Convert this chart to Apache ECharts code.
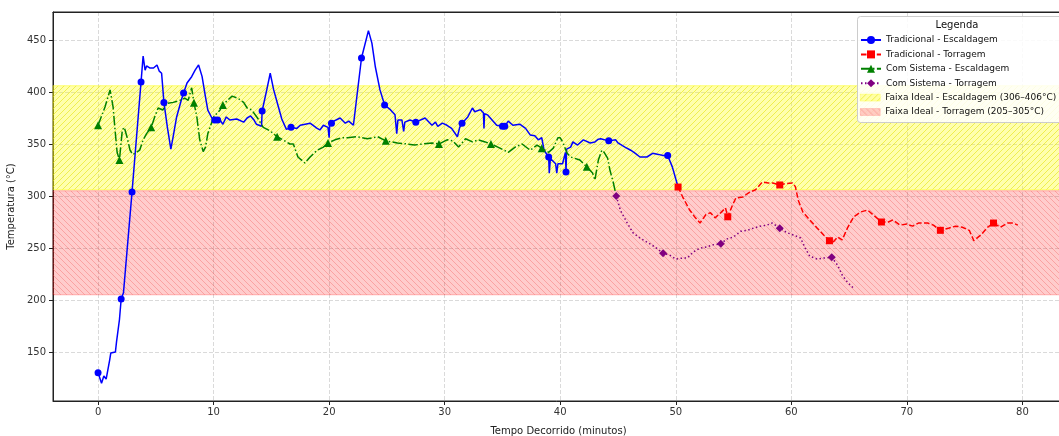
<!DOCTYPE html>
<html>
<head>
<meta charset="utf-8">
<script src="https://cdn.jsdelivr.net/npm/echarts@6/dist/echarts.min.js"></script>
<style>
html,body{margin:0;padding:0;background:#fff;}
#chart{width:1059px;height:436px;}
</style>
</head>
<body>
<div id="chart"></div>
<script>
// ---------- DATA (minutes, °C) ----------
const seriesNames = ['Tradicional - Escaldagem', 'Tradicional - Torragem', 'Com Sistema - Escaldagem', 'Com Sistema - Torragem'];
const bandNames = ['Faixa Ideal - Escaldagem (306–406°C)', 'Faixa Ideal - Torragem (205–305°C)'];
const bandEscaldagem = [306, 406];
const bandTorragem = [205, 305];
const xTicks = [0, 10, 20, 30, 40, 50, 60, 70, 80];
const yTicks = [150, 200, 250, 300, 350, 400, 450];

const tradEscLine = [[0.3,120],[0.5,127],[0.7,124],[1.0,142],[1.1,149],[1.5,150],[1.6,160],[1.85,181],[2.2,207],[3.9,434.6],[4.07,421],[4.2,425],[4.5,423],[4.8,423],[5.1,426],[5.3,420],[5.5,418],[6.0,366],[6.3,345],[6.5,357],[6.8,376],[7.2,392],[7.7,408.6],[8.1,414.7],[8.4,421],[8.7,426],[9.0,415],[9.3,395],[9.5,382.6],[9.85,375],[10.56,373],[10.8,369],[11.1,376],[11.4,373],[12.0,374],[12.6,371],[12.9,375],[13.2,377],[13.5,373],[13.7,369],[14.15,367],[14.6,402],[14.9,418],[15.2,402],[15.6,386],[15.9,374],[16.3,364],[17.2,365],[17.5,368],[18.35,370],[18.96,365],[19.2,363.5],[19.5,368],[19.9,366],[20.0,356],[20.05,370],[20.95,375],[21.4,370],[21.7,372],[22.1,368],[23.4,459],[23.7,447],[24.0,424],[24.4,402],[25.3,383],[25.7,378],[25.85,360],[25.95,373],[26.3,373],[26.45,362],[26.55,371],[27.0,373],[28.3,375],[28.9,368],[29.2,371],[29.4,367],[29.8,370],[30.2,368],[30.6,365],[31.1,357],[31.3,366],[32.0,376],[32.4,384.6],[32.6,381],[33.1,383],[33.35,380],[33.4,365],[33.45,379],[33.7,378],[34.1,373],[34.5,368],[35.5,372],[35.9,368],[36.5,369],[37.0,365],[37.4,358.7],[37.8,358],[38.1,354],[38.4,356],[38.6,344],[39.05,322],[39.15,336],[39.6,331],[39.7,322],[39.8,331],[40.2,331],[40.45,342],[40.55,345],[40.9,347],[41.1,352],[41.5,349],[42.0,354],[42.6,351],[43.0,352],[43.3,354.6],[43.5,355],[44.8,354],[45.0,351],[45.6,347],[46.1,344],[46.5,341],[46.9,337.5],[47.5,337.5],[48.0,341],[48.5,340],[48.9,339],[49.7,328],[50.2,308.6]];
const tradEscMarks = [[0,130],[2.0,201],[2.94,303.8],[3.72,409.6],[5.7,390],[7.4,399],[10.1,373],[10.35,373],[14.2,381.7],[16.7,366],[20.2,370],[22.8,432.7],[24.8,387.5],[27.5,371],[31.5,370],[35.0,367],[35.2,367],[39.0,337.5],[40.5,323],[44.2,353],[49.3,339]];

const tradTorLine = [[50.6,299],[51.2,286.5],[51.7,279],[52.1,274],[52.6,282],[53.0,284],[53.4,279],[53.9,284],[54.3,288.5],[54.9,291],[55.2,298],[55.8,299],[56.3,303],[56.9,306],[57.5,313.5],[58.0,312.5],[58.4,312.5],[59.5,312],[60.1,312.5],[60.35,309],[60.6,296],[61.0,284.6],[61.6,277],[62.25,269],[62.8,262.5],[63.65,256],[64.0,260.6],[64.4,257.7],[64.85,269],[65.4,280],[66.0,284.6],[66.6,286.5],[67.1,281.7],[68.4,275],[68.8,277],[69.4,272],[70.0,273],[70.5,271],[71.0,274],[71.8,274],[72.3,272],[73.6,269],[74.2,271],[74.8,270],[75.4,267],[75.8,257],[76.4,262.5],[77.0,270],[78.1,270],[78.7,274],[79.2,274],[79.6,272]];
const tradTorMarks = [[50.2,308.6],[54.5,280],[59.0,310.6],[63.3,257],[67.8,275],[72.9,267],[77.5,274]];

const sisEscLine = [[0.6,385.6],[1.04,402],[1.3,385.6],[1.47,363.5],[1.65,342],[2.1,363.5],[2.27,366],[2.5,357],[2.77,344],[3.0,340],[3.35,342],[3.6,344],[3.9,354],[4.2,360],[4.9,376],[5.2,384.6],[5.6,382.7],[5.97,389],[6.5,390],[7.1,392],[7.5,394],[7.8,392],[8.1,404],[8.55,376],[8.8,354],[9.1,342.7],[9.3,347],[9.5,360],[10.0,376],[10.56,382.7],[11.2,392],[11.6,396],[12.1,394],[12.6,390],[12.9,384.6],[13.3,382.7],[13.8,375],[14.3,366],[14.9,362.5],[16.0,354],[16.6,350],[16.9,350],[17.3,337.5],[17.9,331.7],[18.35,337.5],[18.96,344],[19.5,347],[20.5,354],[21.1,356],[21.6,356],[22.4,357],[23.3,355],[24.2,357],[25.9,351],[26.75,350],[27.4,349],[28.1,350],[28.9,351],[30.2,354],[30.7,353],[31.2,347],[31.8,355],[32.4,352],[32.9,354],[33.5,352],[34.6,347],[35.5,342],[36.1,347],[36.7,350],[37.4,344],[38.0,349],[39.0,342],[39.4,346],[39.8,356],[40.0,356],[40.2,352],[40.6,341],[40.9,337.5],[41.7,334.6],[42.8,322],[43.0,315.4],[43.3,334.6],[43.6,344],[43.8,342],[44.1,336.5],[44.3,325],[44.6,312.5],[44.85,300]];
const sisEscMarks = [[0,368],[1.85,334.6],[4.6,366],[8.3,389.6],[10.8,387.5],[15.5,357],[19.9,351],[24.9,353],[29.5,350],[34.0,350],[38.4,346],[42.3,328]];

const sisTorLine = [[45.2,286.5],[45.8,274],[46.3,264.6],[46.9,259.6],[47.6,255],[48.2,251],[49.5,243],[50.0,239.4],[50.65,240.4],[51.0,240.4],[51.5,246],[52.1,250],[52.7,251],[53.2,253],[54.4,258.6],[55.0,260.6],[55.6,266],[56.2,267],[56.7,269],[57.3,271],[57.9,272],[58.35,274],[59.65,264.6],[60.2,262.5],[60.8,259.6],[61.2,250],[61.6,242],[62.25,239.4],[62.8,240.4],[64.0,233.6],[64.4,224],[64.85,217.3],[65.45,210.6]];
const sisTorMarks = [[44.85,300],[48.9,245],[53.9,254],[59.0,269],[63.5,241]];

// ---------- BUILD ----------
function build(line, marks) {
  const pts = line.map(p => ({ value: p, symbol: 'none' })).concat(marks.map(p => ({ value: p })));
  pts.sort((a, b) => a.value[0] - b.value[0]);
  return pts;
}
function hatch(fill, stroke, dir) {
  const s = 6, c = document.createElement('canvas');
  c.width = s; c.height = s;
  const g = c.getContext('2d');
  g.fillStyle = fill; g.fillRect(0, 0, s, s);
  g.strokeStyle = stroke; g.lineWidth = 1;
  g.beginPath();
  if (dir === '/') {
    g.moveTo(0, s); g.lineTo(s, 0);
    g.moveTo(-1, 1); g.lineTo(1, -1);
    g.moveTo(s - 1, s + 1); g.lineTo(s + 1, s - 1);
  } else {
    g.moveTo(0, 0); g.lineTo(s, s);
    g.moveTo(s - 1, -1); g.lineTo(s + 1, 1);
    g.moveTo(-1, s - 1); g.lineTo(1, s + 1);
  }
  g.stroke();
  return { image: c, repeat: 'repeat' };
}
const yellowPat = hatch('rgba(255,255,0,0.32)', 'rgba(225,225,0,0.55)', '/');
const redPat = hatch('rgba(255,0,0,0.2)', 'rgba(240,70,70,0.32)', '\\');

const FONT = 'DejaVu Sans';
const chart = echarts.init(document.getElementById('chart'), null, { renderer: 'canvas' });

const lineSeries = (name, data, color, symbol, size, dash) => ({
  name, type: 'line', data, symbol, symbolSize: size, showSymbol: true,
  color, itemStyle: { color }, lineStyle: { color, width: 1.5, type: dash },
  z: 3, silent: true
});
const splitStyle = { show: true, lineStyle: { color: '#d0d0d0', width: 0.8, type: [4, 2] } };
const legendText = { fontSize: 9, color: '#111', fontFamily: FONT, lineHeight: 12 };

chart.setOption({
  animation: false,
  backgroundColor: '#fff',
  textStyle: { fontFamily: FONT },
  grid: { left: 53, right: -5, top: 12, bottom: 35, show: true, borderColor: '#222', borderWidth: 1, containLabel: false, outerBoundsMode: 'none' },
  xAxis: [{
    type: 'value', min: -3.9, max: 83.6, minInterval: 10, maxInterval: 10,
    name: 'Tempo Decorrido (minutos)', nameLocation: 'middle', nameGap: 25,
    nameTextStyle: { fontSize: 10, color: '#222', fontFamily: FONT },
    axisLine: { onZero: false, lineStyle: { color: '#222', width: 1 } },
    axisTick: { show: true, length: 4, lineStyle: { color: '#222' } },
    axisLabel: { fontSize: 10, color: '#333', margin: 6, showMinLabel: false, showMaxLabel: false, fontFamily: FONT,
      formatter: v => xTicks.includes(v) ? String(v) : '' },
    splitLine: splitStyle
  }, {
    type: 'value', position: 'top', min: -3.9, max: 83.6, z: 10,
    axisLine: { show: true, onZero: false, lineStyle: { color: '#222', width: 1 } },
    axisTick: { show: false }, axisLabel: { show: false }, splitLine: { show: false }
  }],
  yAxis: {
    type: 'value', min: 102.9, max: 476.9, minInterval: 50, maxInterval: 50,
    name: 'Temperatura (°C)', nameLocation: 'middle', nameGap: 37,
    nameTextStyle: { fontSize: 10, color: '#222', fontFamily: FONT },
    axisLine: { show: true, onZero: false, lineStyle: { color: '#222', width: 1 } },
    axisTick: { show: true, length: 4, lineStyle: { color: '#222' } },
    axisLabel: { fontSize: 10, color: '#333', margin: 7, showMinLabel: false, showMaxLabel: false, fontFamily: FONT,
      formatter: v => yTicks.includes(v) ? String(v) : '' },
    splitLine: splitStyle
  },
  legend: [{
    left: 860, top: 34, orient: 'vertical', padding: 0, z: 10,
    itemWidth: 20, itemHeight: 10, itemGap: 2.4,
    textStyle: legendText, selectedMode: false,
    data: seriesNames
  }, {
    left: 860, top: 91.6, orient: 'vertical', padding: 0, z: 10,
    itemWidth: 20, itemHeight: 7, itemGap: 2.4,
    textStyle: legendText, selectedMode: false,
    data: [
      { name: bandNames[0], icon: 'rect', itemStyle: { color: yellowPat, borderColor: 'rgba(255,255,0,0.5)', borderWidth: 0.5 } },
      { name: bandNames[1], icon: 'rect', itemStyle: { color: redPat, borderColor: 'rgba(255,0,0,0.25)', borderWidth: 0.5 } }
    ]
  }],
  graphic: [{
    type: 'rect', z: 5, silent: true,
    shape: { x: 857.5, y: 16.5, width: 206, height: 106, r: 3 },
    style: { fill: 'rgba(255,255,255,0.85)', stroke: '#cccccc', lineWidth: 1 }
  }, {
    type: 'text', x: 957, y: 25, z: 11, silent: true,
    style: { text: 'Legenda', fontSize: 10, fontFamily: FONT, fill: '#111', align: 'center', verticalAlign: 'middle', textAlign: 'center', textVerticalAlign: 'middle' }
  }],
  series: [
    lineSeries(seriesNames[0], build(tradEscLine, tradEscMarks), '#0000ff', 'circle', 7, 'solid'),
    lineSeries(seriesNames[1], build(tradTorLine, tradTorMarks), '#ff0000', 'rect', 7, [5.5, 2.4]),
    lineSeries(seriesNames[2], build(sisEscLine, sisEscMarks), '#008000', 'triangle', 8, [9.6, 2.4, 1.5, 2.4]),
    lineSeries(seriesNames[3], build(sisTorLine, sisTorMarks), '#800080', 'diamond', 8, [1.5, 2.5]),
    {
      name: bandNames[0], type: 'line', data: [], z: 1, silent: true,
      itemStyle: { color: yellowPat },
      markArea: { silent: true, itemStyle: { color: yellowPat, borderColor: 'rgba(255,255,0,0.5)', borderWidth: 1 },
        data: [[{ yAxis: bandEscaldagem[0] }, { yAxis: bandEscaldagem[1] }]] }
    },
    {
      name: bandNames[1], type: 'line', data: [], z: 1, silent: true,
      itemStyle: { color: redPat },
      markArea: { silent: true, itemStyle: { color: redPat, borderColor: 'rgba(255,0,0,0.25)', borderWidth: 1 },
        data: [[{ yAxis: bandTorragem[0] }, { yAxis: bandTorragem[1] }]] }
    }
  ]
});
</script>
</body>
</html>
